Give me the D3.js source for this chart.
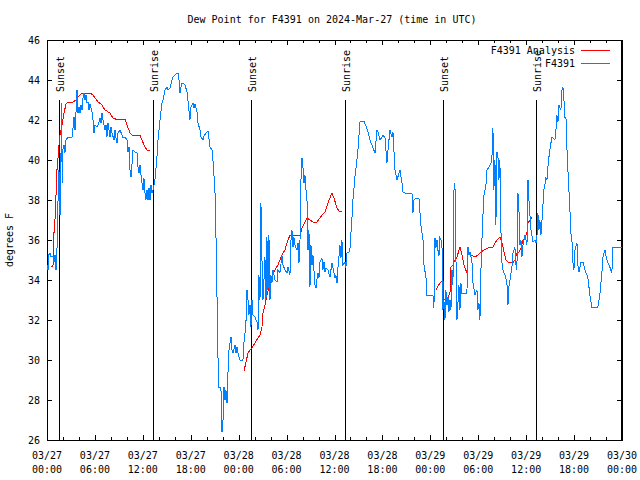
<!DOCTYPE html>
<html>
<head>
<meta charset="utf-8">
<script src="https://cdn.jsdelivr.net/npm/d3@7"></script>
<style>
  html, body { margin: 0; padding: 0; background: #fff; }
  svg text { font-family: "DejaVu Sans Mono", "Liberation Mono", monospace; font-size: 10px; fill: #000; }
</style>
</head>
<body>
<svg id="chart" width="640" height="480"></svg>
<script>
// ---- data (hours since 2024-03-27 00:00 UTC) ----
const titleText = "Dew Point for F4391 on 2024-Mar-27 (time in UTC)";
const yLabel = "degrees F";
const xTickHours = [0, 6, 12, 18, 24, 30, 36, 42, 48, 54, 60, 66, 72];
const xTickDates = ["03/27","03/27","03/27","03/27","03/28","03/28","03/28","03/28","03/29","03/29","03/29","03/29","03/30"];
const xTickTimes = ["00:00","06:00","12:00","18:00","00:00","06:00","12:00","18:00","00:00","06:00","12:00","18:00","00:00"];
const yTicks = [26, 28, 30, 32, 34, 36, 38, 40, 42, 44, 46];

const sunHours  = [1.54, 13.31, 25.58, 37.35, 49.62, 61.27];
const sunLabels = ["Sunset", "Sunrise", "Sunset", "Sunrise", "Sunset", "Sunrise"];

const seriesNames = ["F4391 Analysis", "F4391"];

// observed dew point (F4391)
const obsHours = [0.00,0.13,0.19,0.38,0.50,0.75,0.88,1.00,1.13,1.25,1.38,1.50,1.63,1.72,1.82,1.90,1.97,2.13,2.25,2.38,2.63,3.13,3.26,3.38,3.51,3.63,3.76,3.88,4.01,4.13,4.26,4.38,4.51,4.63,4.76,4.88,5.01,5.13,5.26,5.38,5.51,5.63,5.76,5.88,6.01,6.26,6.39,6.64,6.76,6.89,7.01,7.26,7.39,7.51,7.64,7.76,7.89,8.01,8.14,8.39,8.51,8.64,8.76,8.89,9.14,9.39,9.52,9.77,10.02,10.14,10.27,10.39,10.52,10.64,10.77,11.02,11.27,11.39,11.52,11.64,11.89,12.02,12.14,12.27,12.39,12.52,12.65,12.77,12.90,13.02,13.15,13.27,13.52,13.77,13.90,14.15,14.40,14.52,14.77,15.02,15.15,15.40,15.65,15.78,16.03,16.28,16.40,16.53,16.65,16.78,16.90,17.15,17.28,17.53,17.65,17.90,18.03,18.28,18.40,18.53,18.78,18.91,19.16,19.28,19.53,19.66,19.91,20.16,20.41,20.66,20.78,21.03,21.16,21.28,21.41,21.53,21.78,21.85,21.91,22.04,22.16,22.29,22.41,22.54,22.66,22.79,23.04,23.16,23.29,23.54,23.66,23.79,23.91,24.16,24.54,24.60,24.79,24.91,25.04,25.17,25.29,25.42,25.54,25.67,25.79,26.04,26.29,26.42,26.54,26.67,26.79,26.92,27.04,27.17,27.29,27.42,27.54,27.67,27.79,27.92,28.04,28.17,28.30,28.55,28.80,28.92,29.17,29.42,29.55,29.80,30.05,30.17,30.42,30.55,30.67,30.80,30.92,31.05,31.30,31.43,31.55,31.68,31.80,31.93,32.05,32.18,32.30,32.43,32.55,32.68,32.80,32.93,33.05,33.18,33.30,33.55,33.68,33.80,33.93,34.05,34.18,34.43,34.55,34.68,34.81,34.93,35.18,35.43,35.68,35.81,36.06,36.18,36.31,36.43,36.68,36.81,36.93,37.06,37.31,37.43,37.56,37.81,37.94,38.19,38.31,38.56,38.81,38.94,39.19,39.44,39.69,39.94,40.19,40.44,40.69,41.07,41.32,41.44,41.69,41.94,42.07,42.32,42.57,42.70,42.94,43.19,43.32,43.57,43.82,44.20,44.45,44.57,44.82,45.70,45.82,45.95,46.20,46.57,46.82,47.08,47.20,47.45,47.58,48.33,48.45,48.58,48.70,48.83,48.95,49.08,49.20,49.45,49.58,49.70,49.83,49.95,50.08,50.21,50.33,50.46,50.58,50.71,50.83,50.96,51.08,51.21,51.33,51.46,51.58,51.71,51.83,51.96,52.58,52.71,52.83,52.96,53.21,53.34,53.59,53.84,53.96,54.09,54.21,54.34,54.46,54.59,54.71,54.96,55.09,55.34,55.59,55.71,55.84,55.96,56.09,56.21,56.34,56.46,56.59,56.71,56.84,56.96,57.09,57.34,57.59,57.72,57.84,57.97,58.22,58.34,58.59,58.72,58.84,58.97,59.10,59.22,59.35,59.47,59.60,59.85,60.10,60.23,60.35,60.60,60.85,61.10,61.23,61.35,61.47,61.60,61.72,61.85,61.97,62.10,62.22,62.35,62.47,62.60,62.72,62.85,63.10,63.23,63.60,63.73,63.85,63.98,64.10,64.35,64.48,64.60,64.73,64.85,64.98,65.10,65.23,65.48,65.60,65.73,65.85,65.98,66.11,66.36,66.48,66.61,66.86,67.11,67.36,67.61,67.73,67.98,68.23,68.98,69.23,69.48,69.61,69.86,70.11,70.23,70.48,70.73,70.86,72.00];
const obsValues = [34.75,34.5,35.25,35.35,35.15,35.2,34.9,35.25,34.5,35.5,38.0,39.5,37.25,39.0,42.85,38.85,40.5,40.75,40.35,41.0,41.15,41.15,41.6,42.15,41.5,42.35,43.5,42.35,42.65,42.35,42.75,42.5,43.1,43.35,43.0,43.25,42.85,42.9,42.5,42.8,42.6,42.4,42.0,41.35,41.75,41.65,41.75,42.1,41.85,42.35,42.0,41.5,41.75,41.15,41.85,41.5,41.15,41.65,41.35,41.0,41.5,41.1,40.85,41.35,41.5,41.25,41.1,41.15,41.0,40.4,40.65,39.5,39.15,39.75,40.5,40.4,40.35,39.65,39.35,39.75,38.85,38.5,39.1,38.35,38.0,38.5,38.0,38.6,38.0,38.75,38.35,38.5,39.0,40.15,41.0,42.0,42.85,43.0,43.5,43.65,43.5,43.6,44.0,44.15,44.25,44.35,44.35,44.0,43.35,43.65,43.85,43.8,43.75,43.4,43.0,42.0,42.65,42.85,42.6,42.8,42.4,41.85,41.5,41.15,41.0,41.2,41.35,41.45,40.65,40.5,40.0,38.5,36.15,33.35,30.15,28.65,28.65,27.0,26.4,27.0,28.65,28.0,28.5,27.85,29.35,30.5,31.15,30.5,30.35,30.75,30.35,30.65,30.35,30.0,30.0,30.65,31.35,31.85,33.5,33.0,32.25,32.75,31.65,33.0,32.25,32.15,31.9,31.5,34.25,33.0,37.85,35.0,33.0,34.0,35.15,33.0,36.15,33.5,36.25,33.0,34.25,33.85,34.5,34.0,33.9,34.5,34.35,35.25,34.75,34.5,34.35,34.65,34.25,36.0,36.5,35.65,36.15,35.75,35.5,35.85,34.85,36.0,39.0,40.1,39.65,38.85,39.25,38.5,38.15,35.5,36.5,33.65,35.75,34.75,35.25,33.75,33.6,34.0,34.35,34.1,34.9,35.1,34.5,34.9,34.4,34.6,34.5,34.15,34.85,34.6,34.1,34.25,33.85,34.6,35.75,35.1,36.0,34.75,34.9,34.6,35.35,35.4,35.6,37.15,38.0,39.15,40.0,40.5,41.9,41.95,41.95,41.7,41.4,41.0,40.75,40.35,41.5,41.4,41.0,41.15,41.25,41.1,39.85,40.5,41.5,41.15,41.4,39.5,39.0,39.5,38.85,38.4,38.35,38.35,37.35,38.0,38.1,38.1,36.75,36.0,34.75,34.15,33.25,33.25,32.6,36.1,35.6,36.0,35.5,35.2,36.1,35.95,32.5,33.0,32.0,33.5,32.75,33.15,32.4,33.0,32.5,34.5,33.75,38.5,38.85,35.0,32.0,32.85,33.75,32.5,33.85,33.35,33.35,35.65,35.25,35.4,34.9,33.85,33.25,33.5,32.5,32.85,32.0,34.5,36.0,37.25,38.25,38.75,39.5,39.65,39.85,40.1,41.6,38.5,40.0,36.75,40.4,40.25,39.0,40.0,36.5,34.9,34.5,34.25,33.85,32.75,33.65,34.0,34.65,35.35,35.65,34.75,34.5,38.35,37.5,35.75,36.0,35.15,35.75,36.25,35.75,39.0,38.0,36.5,35.9,36.0,35.85,36.15,37.35,36.5,37.0,36.25,36.9,37.75,38.5,38.75,39.1,39.0,39.65,40.15,40.85,41.15,41.0,41.5,42.25,41.9,42.75,42.5,43.5,43.65,43.0,42.15,42.15,40.65,39.5,37.5,36.35,36.0,34.9,34.5,35.5,35.85,34.75,34.4,34.9,34.9,34.5,34.25,34.1,33.25,32.65,32.65,33.25,34.35,35.15,35.5,35.0,34.85,34.65,34.35,35.65,35.65];

// analysis dew point (F4391 Analysis); null separates segments
const anaHours = [0.50,0.75,0.88,1.00,1.13,1.25,1.38,1.50,1.63,1.88,2.13,2.38,2.63,3.26,3.63,3.88,4.38,5.38,5.76,6.39,6.89,7.26,7.89,8.26,8.89,9.14,9.77,10.02,10.39,10.64,11.64,11.89,12.27,12.52,12.90,
  null,
  24.67,24.92,25.17,25.42,25.67,26.04,26.42,26.67,26.92,27.04,27.29,27.54,27.92,28.30,28.55,28.92,29.17,29.42,29.80,30.05,30.42,31.68,31.93,32.30,32.55,32.93,33.30,33.80,34.18,34.43,34.81,35.18,35.43,35.68,35.93,36.31,36.56,36.93,
  null,
  48.70,49.20,49.58,49.70,50.21,50.46,50.58,50.83,51.08,51.33,51.71,51.96,52.21,52.58,52.71,53.09,53.59,53.96,54.34,54.71,55.22,55.84,56.34,56.71,56.96,57.22,57.47,57.72,58.34,58.59,58.84,59.10,59.35,59.60,59.85,60.10,60.23,60.48,60.73];
const anaValues = [34.7,34.7,36.4,37.0,38.25,39.5,40.1,40.75,41.25,41.75,42.35,42.8,42.9,42.9,43.0,43.15,43.35,43.35,43.25,42.9,42.75,42.5,42.35,42.1,42.0,42.05,42.05,41.75,41.35,41.25,41.25,41.0,40.65,40.5,40.5,
  null,
  29.45,29.9,30.35,30.5,30.6,30.85,31.1,31.25,31.65,32.35,32.75,33.25,33.85,34.35,34.5,34.75,35.0,35.25,35.5,35.85,36.25,36.25,36.6,36.9,37.1,37.0,36.9,36.9,37.1,37.25,37.4,37.85,38.1,38.35,38.1,37.6,37.45,37.45,
  null,
  33.5,33.85,34.0,33.0,33.15,33.35,34.65,34.75,35.0,35.15,35.65,35.25,34.75,34.35,35.35,35.25,35.15,35.25,35.4,35.5,35.6,35.65,36.0,36.15,35.9,35.4,35.0,34.9,34.85,35.0,35.35,35.4,35.6,36.0,36.1,36.35,36.85,37.0,37.15];

// ---- layout ----
const W = 640, H = 480;
const plot = { left: 47, right: 622, top: 40, bottom: 440 };
const colors = { analysis: "#ff0000", obs: "#0080ff" };

const svg = d3.select("#chart");
const x = d3.scaleLinear().domain([0, 72]).range([plot.left, plot.right]);
const y = d3.scaleLinear().domain([26, 46]).range([plot.bottom, plot.top]);

const axisStyle = g => {
  g.selectAll("path").attr("stroke", "#000").attr("shape-rendering", "crispEdges");
  g.selectAll("line").attr("stroke", "#000").attr("shape-rendering", "crispEdges");
  g.selectAll("text").remove();
};

const minorHours = d3.range(0, 73, 2);

// bottom axis: major + minor, inward ticks
svg.append("g").attr("transform", `translate(0,${plot.bottom})`)
  .call(d3.axisBottom(x).tickValues(minorHours).tickSizeInner(-3).tickSizeOuter(0)).call(axisStyle);
svg.append("g").attr("transform", `translate(0,${plot.bottom})`)
  .call(d3.axisBottom(x).tickValues(xTickHours).tickSizeInner(-5).tickSizeOuter(0)).call(axisStyle);
// top axis
svg.append("g").attr("transform", `translate(0,${plot.top})`)
  .call(d3.axisTop(x).tickValues(minorHours).tickSizeInner(-3).tickSizeOuter(0)).call(axisStyle);
svg.append("g").attr("transform", `translate(0,${plot.top})`)
  .call(d3.axisTop(x).tickValues(xTickHours).tickSizeInner(-5).tickSizeOuter(0)).call(axisStyle);
// left/right axes
svg.append("g").attr("transform", `translate(${plot.left},0)`)
  .call(d3.axisLeft(y).tickValues(yTicks).tickSizeInner(-5).tickSizeOuter(0)).call(axisStyle);
svg.append("g").attr("transform", `translate(${plot.right},0)`)
  .call(d3.axisRight(y).tickValues(yTicks).tickSizeInner(-5).tickSizeOuter(0)).call(axisStyle);

// border
svg.append("rect")
  .attr("x", plot.left + 0.5).attr("y", plot.top + 0.5)
  .attr("width", plot.right - plot.left - 1).attr("height", plot.bottom - plot.top)
  .attr("fill", "none").attr("stroke", "#000").attr("shape-rendering", "crispEdges");

// y tick labels
svg.append("g").selectAll("text").data(yTicks).join("text")
  .attr("x", plot.left - 7).attr("y", d => y(d)).attr("dy", "0.35em")
  .attr("text-anchor", "end").text(d => d);

// x tick labels (two lines)
const xl = svg.append("g").selectAll("g").data(xTickHours).join("g")
  .attr("transform", d => `translate(${x(d)},0)`);
xl.append("text").attr("y", 459).attr("text-anchor", "middle").text((d, i) => xTickDates[i]);
xl.append("text").attr("y", 473).attr("text-anchor", "middle").text((d, i) => xTickTimes[i]);

// title and y label
svg.append("text").attr("x", 332).attr("y", 23).attr("text-anchor", "middle").text(titleText);
svg.append("text").attr("transform", "translate(13,240) rotate(-90)").attr("text-anchor", "middle").text(yLabel);

// sunrise/sunset lines
const sun = svg.append("g").selectAll("g").data(sunHours).join("g");
sun.append("line")
  .attr("x1", d => Math.round(x(d)) + 0.5).attr("x2", d => Math.round(x(d)) + 0.5)
  .attr("y1", 100).attr("y2", plot.bottom)
  .attr("stroke", "#000").attr("stroke-width", 1).attr("shape-rendering", "crispEdges");
sun.append("text")
  .attr("transform", d => `translate(${Math.round(x(d)) + 5},92) rotate(-90)`)
  .attr("text-anchor", "start").text((d, i) => sunLabels[i]);

// data lines
const obsData = obsHours.map((h, i) => [h, obsValues[i]]);
const anaData = anaHours.map((h, i) => [h, anaValues[i]]);
const line = d3.line()
  .defined(d => d[0] !== null && d[1] !== null)
  .x(d => x(d[0])).y(d => y(d[1]));

svg.append("path").datum(anaData).attr("d", line)
  .attr("fill", "none").attr("stroke", colors.analysis).attr("stroke-width", 1)
  .attr("shape-rendering", "crispEdges");
svg.append("path").datum(obsData).attr("d", line)
  .attr("fill", "none").attr("stroke", colors.obs).attr("stroke-width", 1)
  .attr("shape-rendering", "crispEdges");

// legend
const legend = svg.append("g");
const legendColors = [colors.analysis, colors.obs];
seriesNames.forEach((name, i) => {
  const ly = 50 + i * 13;
  legend.append("text").attr("x", 575).attr("y", ly).attr("dy", "0.35em")
    .attr("text-anchor", "end").text(name);
  legend.append("line").attr("x1", 581).attr("x2", 610).attr("y1", ly + 0.5).attr("y2", ly + 0.5)
    .attr("stroke", legendColors[i]).attr("stroke-width", 1).attr("shape-rendering", "crispEdges");
});
</script>
</body>
</html>
